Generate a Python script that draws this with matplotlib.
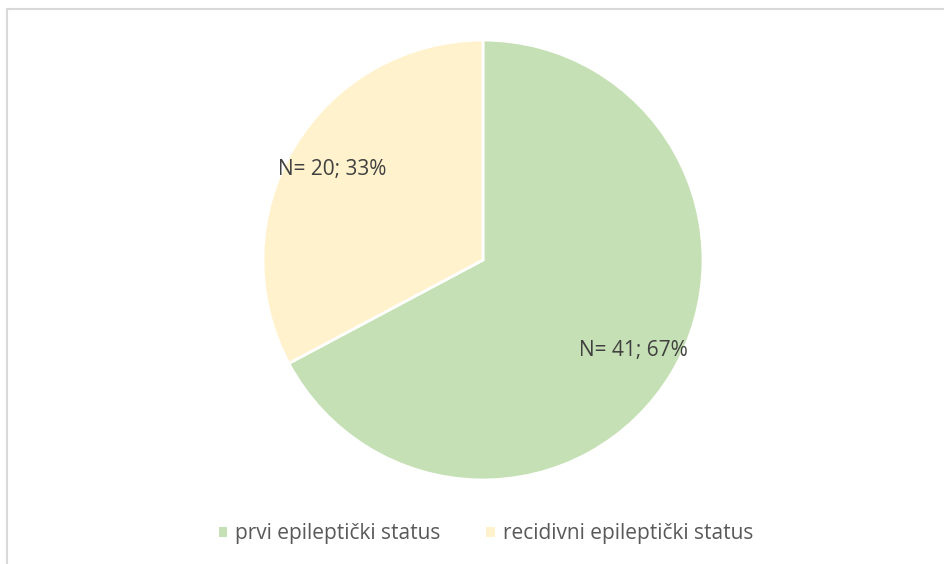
import matplotlib.pyplot as plt
from matplotlib.patches import Rectangle, Patch

# podaci
kategorije = ['prvi epileptički status', 'recidivni epileptički status']
broj = [41, 20]
postotak = [67, 33]
boje = ['#C5E0B4', '#FFF2CC']

plt.rcParams['font.family'] = ['Open Sans', 'DejaVu Sans']

fig = plt.figure(figsize=(9.45, 5.64), dpi=100)
fig.patch.set_facecolor('white')

# okvir grafikona
fig.patches.append(Rectangle((7 / 945, -0.1), 1.2, 1 - 9 / 564 + 0.1,
                             transform=fig.transFigure, fill=False,
                             edgecolor='#D9D9D9', linewidth=1.5))

ax = fig.add_axes([0.2783, 0.149, 0.4656, 0.780])
oznake = ['N= {}; {}%'.format(n, p) for n, p in zip(broj, postotak)]
wedges, texts = ax.pie(broj, colors=boje, startangle=90, counterclock=False,
                       labels=oznake, labeldistance=0.8,
                       wedgeprops=dict(edgecolor='white', linewidth=2),
                       textprops=dict(fontsize=15, color='#404040'))
for t in texts:
    t.set_ha('center')
    t.set_va('center')
ax.set_aspect('auto')
ax.set_xlim(-1, 1)
ax.set_ylim(-1, 1)

# legenda
rucke = [Patch(facecolor=b, edgecolor='none') for b in boje]
fig.legend(rucke, kategorije, loc='center', bbox_to_anchor=(486 / 945, 1 - 534 / 564),
           ncol=2, frameon=False, fontsize=15, labelcolor='#595959',
           handlelength=0.4, handleheight=0.4, handletextpad=0.4, columnspacing=2.2)

fig.savefig('out.png', dpi=100)
